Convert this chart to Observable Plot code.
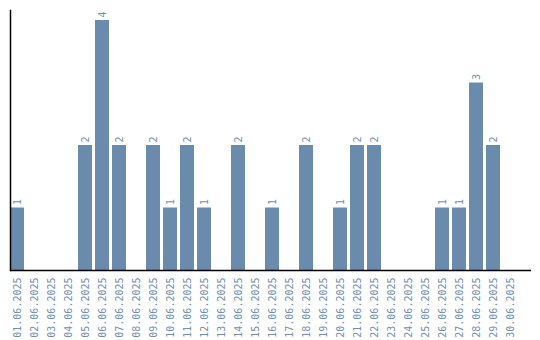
<!DOCTYPE html>
<html><head><meta charset="utf-8">
<script src="https://cdn.jsdelivr.net/npm/d3@7"></script>
<script src="https://cdn.jsdelivr.net/npm/@observablehq/plot@0.6"></script>
<style>body{margin:0;background:#fff}</style>
</head><body><div id="chart"></div>
<script>
const dates = ["01.06.2025","02.06.2025","03.06.2025","04.06.2025","05.06.2025","06.06.2025","07.06.2025","08.06.2025","09.06.2025","10.06.2025","11.06.2025","12.06.2025","13.06.2025","14.06.2025","15.06.2025","16.06.2025","17.06.2025","18.06.2025","19.06.2025","20.06.2025","21.06.2025","22.06.2025","23.06.2025","24.06.2025","25.06.2025","26.06.2025","27.06.2025","28.06.2025","29.06.2025","30.06.2025"];
const counts = [1,0,0,0,2,4,2,0,2,1,2,1,0,2,0,1,0,2,0,1,2,2,0,0,0,1,1,3,2,0];
const data = dates.map((d,i)=>({date:d, count:counts[i]}));
const barColor = "#6a8bab";
const textColor = "#6f8fae";
const font = "DejaVu Sans Mono";
const chart = Plot.plot({
  width: 540, height: 340,
  marginLeft: 10, marginRight: 9, marginTop: 10, marginBottom: 70,
  style: {fontFamily: font, fontSize: "10px", background: "#fff"},
  x: {domain: dates, range: [10, 517], paddingInner: 3/17, paddingOuter: 0, align: 0},
  y: {domain: [0, 4.16], axis: null},
  marks: [
    Plot.barY(data, {x: "date", y: "count", fill: barColor}),
    Plot.text(data.filter(d=>d.count>0), {x: "date", y: "count", text: d=>String(d.count), rotate: -90, textAnchor: "start", dy: -3, fill: textColor, fontSize: 10}),
    Plot.axisX({tickRotate: -90, tickSize: 0, tickPadding: 7, fill: textColor, fontSize: 10, label: null}),
    Plot.ruleY([0], {stroke: "#000", strokeWidth: 1.5}),
    Plot.frame({anchor: "left", stroke: "#000", strokeWidth: 1.5})
  ]
});
document.getElementById("chart").appendChild(chart);
</script>
</body></html>
